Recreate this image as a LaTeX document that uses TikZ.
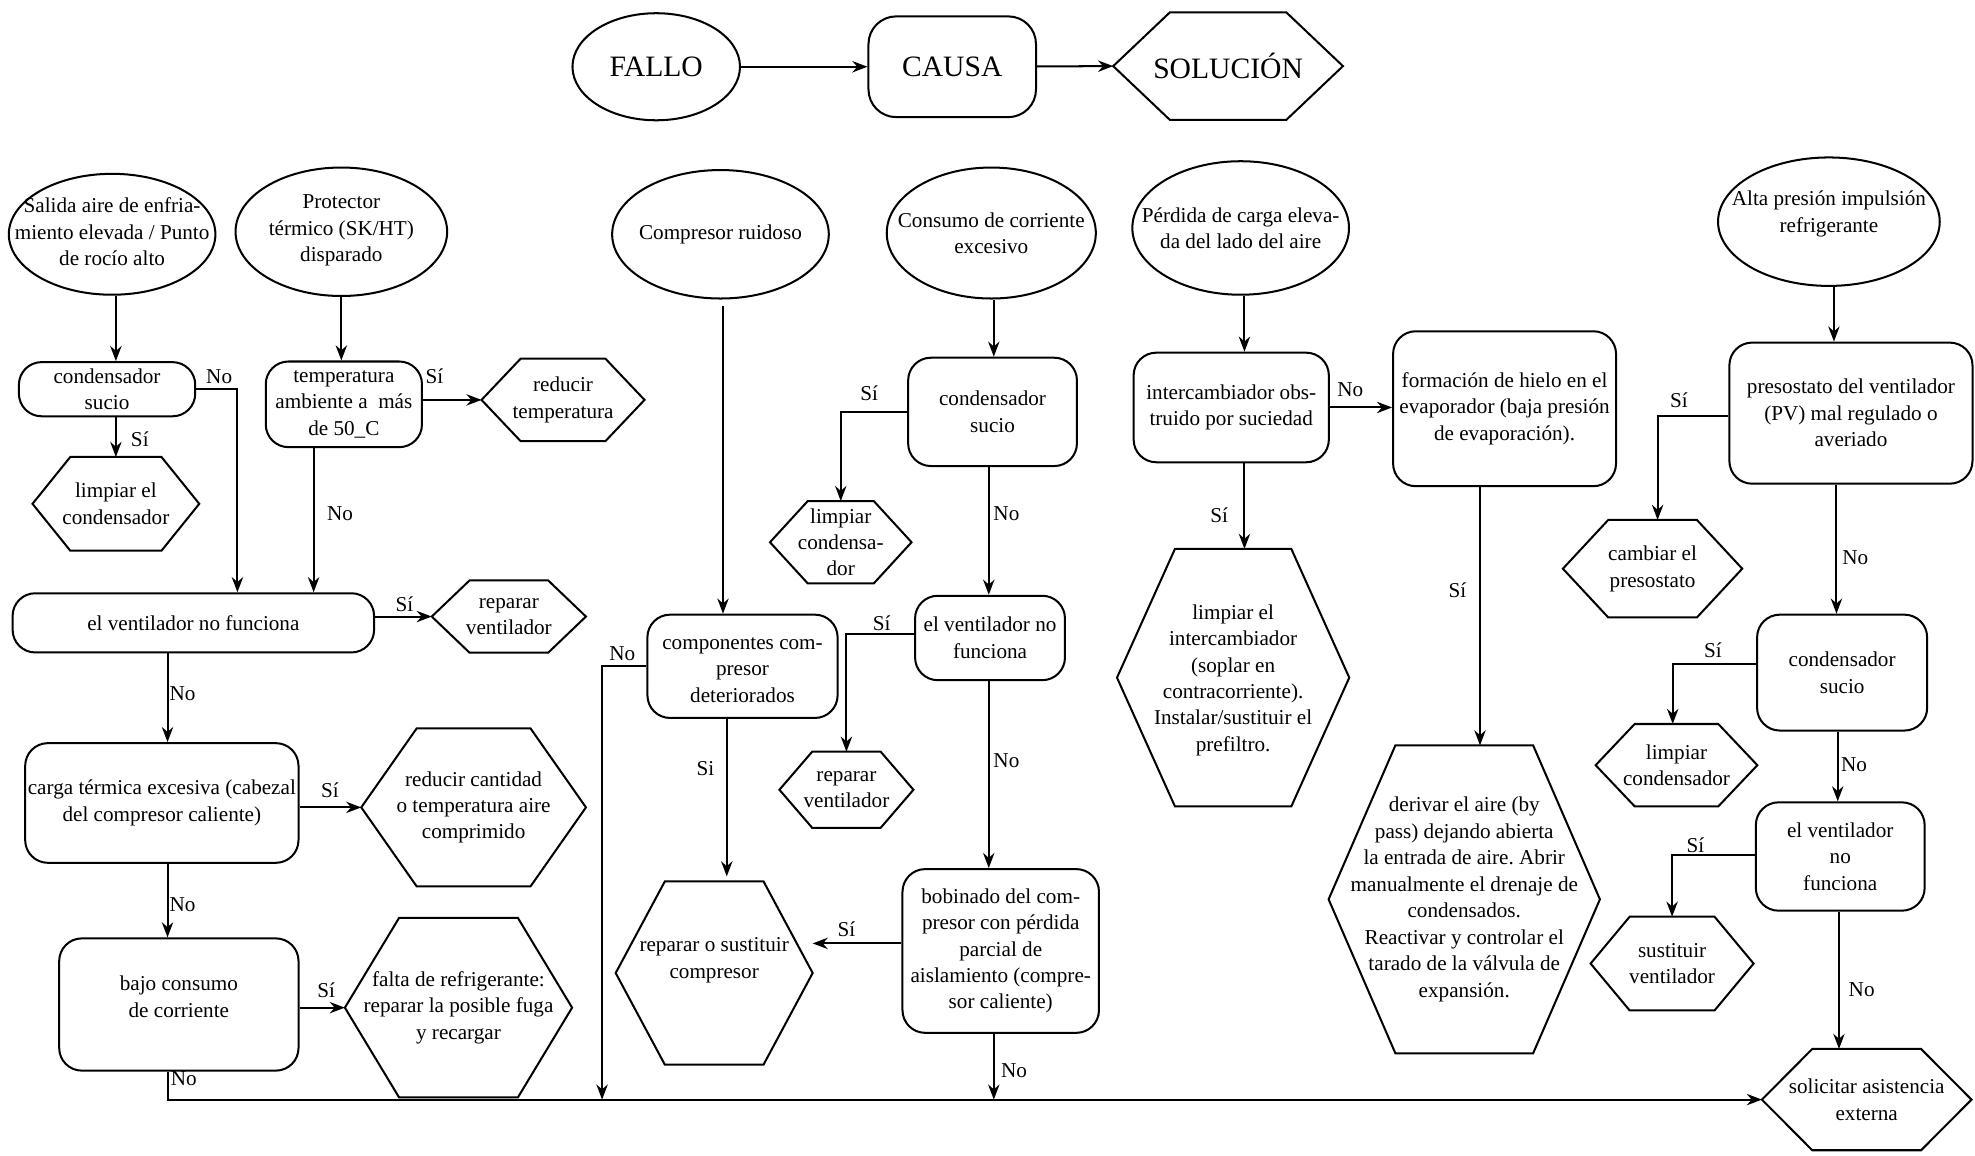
\documentclass[tikz,border=0pt]{standalone}
\usepackage{fontspec}
\setmainfont{Liberation Serif}
\usetikzlibrary{shapes.geometric,arrows.meta,calc}
\tikzset{
  shp/.style={draw, line width=1.6pt},
  rbox/.style={shp, rectangle, rounded corners=18pt, inner sep=0pt},
  ell/.style={shp, ellipse, inner sep=0pt},
  txt/.style={align=center, inner sep=0pt, font=\fontsize{16.8}{21}\selectfont},
  big/.style={align=center, inner sep=0pt, font=\fontsize{23.5}{28}\selectfont},
  lbl/.style={inner sep=0pt, font=\fontsize{16.8}{21}\selectfont},
  arr/.style={line width=1.6pt, -{Stealth[length=12pt,width=9pt]}},
}
% rounded box: name, cx, cy, w, h, text dy, text
\newcommand\rbx[7]{%
  \node[rbox, minimum width=#4pt, minimum height=#5pt] (#1) at (#2,#3) {};
  \node[txt] (#1t) at ($(#1)+(0,#6)$) {#7};}
% ellipse: name, cx, cy, w, h, text dy, text
\newcommand\elp[7]{%
  \node[ell, minimum width=#4pt, minimum height=#5pt] (#1) at (#2,#3) {};
  \node[txt] (#1t) at ($(#1)+(0,#6)$) {#7};}
% hexagon: name, cx, cy, w, h, inset, text dy, text
\newcommand\hexg[8]{%
  \node[inner sep=0pt, minimum width=#4pt, minimum height=#5pt] (#1) at (#2,#3) {};
  \draw[shp, line join=miter] (#1.west) -- ([xshift=#6pt]#1.north west) -- ([xshift=-#6pt]#1.north east) -- (#1.east) -- ([xshift=-#6pt]#1.south east) -- ([xshift=#6pt]#1.south west) -- cycle;
  \node[txt] (#1t) at ($(#1)+(0,#7)$) {#8};}
\begin{document}
\frenchspacing
\begin{tikzpicture}[x=1pt,y=-1pt]
\useasboundingbox (0,0) rectangle (1568,917);
\fill[white] (0,0) rectangle (1568,917);

% ---------- legend ----------
\node[ell, minimum width=133pt, minimum height=85pt] (fallo) at (521,53) {};
\node[big] (fallot) at (fallo) {FALLO};
\node[rbox, rounded corners=22pt, minimum width=133pt, minimum height=80pt] (causa) at (756,53) {};
\node[big] (causat) at (causa) {CAUSA};
\node[inner sep=0pt, minimum width=182pt, minimum height=85pt] (sol) at (975,52.5) {};
\draw[shp, line join=miter] (sol.west) -- ([xshift=45pt]sol.north west) -- ([xshift=-45pt]sol.north east) -- (sol.east) -- ([xshift=-45pt]sol.south east) -- ([xshift=45pt]sol.south west) -- cycle;
\node[big] (solt) at (sol) {SOLUCIÓN};
\draw[arr] (fallo) -- (causa);
\draw[arr] (causa) -- (sol.west);

% ---------- column 1 & 2 ----------
\elp{e1}{89}{186}{164}{96}{-2}{Salida aire de enfria-\\miento elevada / Punto\\de rocío alto}
\elp{e2}{271}{184}{168}{102}{-1}{Protector\\térmico (SK/HT)\\disparado}
\rbx{r1}{85}{309}{140}{43}{0}{condensador\\sucio}
\rbx{r2}{273}{321}{124}{68}{0}{temperatura\\ambiente a\ \ más\\de 50\_C}
\hexg{h1}{92}{400}{132}{74}{30}{0}{limpiar el\\condensador}
\hexg{h2}{447}{317.5}{129}{65}{31}{0}{reducir\\temperatura}
\rbx{r3}{153.5}{494.5}{287}{47}{0}{el ventilador no funciona}
\hexg{h3}{404}{489.5}{122}{57}{30}{0}{reparar\\ventilador}
\rbx{r4}{128.5}{637.5}{217}{95}{0}{carga térmica excesiva (cabezal\\del compresor caliente)}
\hexg{h4}{376}{641}{178}{125}{44}{0}{reducir cantidad\\o temperatura aire\\comprimido}
\rbx{r5}{142}{797.5}{190}{105}{-6}{bajo consumo\\de corriente}
\hexg{h5}{364}{800}{180}{142}{43}{0}{falta de refrigerante:\\reparar la posible fuga\\y recargar}

% ---------- column 3 & 4 ----------
\elp{e3}{572}{186}{172}{102}{0}{Compresor ruidoso}
\rbx{r6}{589.5}{529}{151}{82}{3}{componentes com-\\presor\\deteriorados}
\hexg{h6}{567}{772.5}{156}{145}{39}{-10}{reparar o sustituir\\compresor}
\elp{e4}{787}{185}{166}{104}{0}{Consumo de corriente\\excesivo}
\rbx{r7}{788}{327}{134}{86}{0}{condensador\\sucio}
\hexg{h7}{667.5}{430.5}{112}{65}{30}{0}{limpiar\\condensa-\\dor}
\rbx{r8}{786}{506.5}{119}{67}{0}{el ventilador no\\funciona}
\hexg{h8}{672}{627}{106}{60}{26}{0}{reparar\\ventilador}
\rbx{r9}{794.5}{755}{156}{130}{0}{bobinado del com-\\presor con pérdida\\parcial de\\aislamiento (compre-\\sor caliente)}

% ---------- column 5 & 6 ----------
\elp{e5}{985}{181}{172}{106}{0}{Pérdida de carga eleva-\\da del lado del aire}
\rbx{r10}{977.5}{323.5}{155}{87}{0}{intercambiador obs-\\truido por suciedad}
\rbx{r11}{1194.5}{324.5}{177}{123}{0}{formación de hielo en el\\evaporador (baja presión\\de evaporación).}
\hexg{h9}{979}{538}{184}{204}{46}{2}{limpiar el\\intercambiador\\(soplar en\\contracorriente).\\Instalar/sustituir el\\prefiltro.}
\hexg{h10}{1162.5}{714}{215}{244}{53}{0}{derivar el aire (by\\pass) dejando abierta\\la entrada de aire. Abrir\\manualmente el drenaje de\\condensados.\\Reactivar y controlar el\\tarado de la válvula de\\expansión.}

% ---------- column 7 ----------
\elp{e6}{1452}{176}{176}{102}{-6}{Alta presión impulsión\\refrigerante}
\rbx{r12}{1469.5}{328}{193}{112}{0}{presostato del ventilador\\(PV) mal regulado o\\averiado}
\hexg{h11}{1312}{451.5}{142}{77}{36}{0}{cambiar el\\presostato}
\rbx{r13}{1462.5}{534}{135}{92}{0}{condensador\\sucio}
\hexg{h12}{1331}{607.5}{128}{65}{31}{0}{limpiar\\condensador}
\rbx{r14}{1461}{680}{134}{86}{0}{el ventilador\\no\\funciona}
\hexg{h13}{1327.5}{765}{129}{74}{31}{0}{sustituir\\ventilador}
\hexg{h14}{1482}{873}{166}{80}{40}{0}{solicitar asistencia\\externa}

\coordinate (j1) at (478,873);
\coordinate (j2) at (789,873);

% ---------- connectors ----------
\draw[arr] ($(e1.south)+(3,0)$) coordinate (a1) -- (a1 |- r1.north);
\draw[arr] (h1.north |- r1.south) -- (h1.north);
\draw[arr] (r1.east) -| ($(r3.north)+(35,0)$);
\draw[arr] (e2.south) -- (e2.south |- r2.north);
\draw[arr] (r2.east |- h2.west) -- (h2.west);
\draw[arr] ($(r2.south)+(-24,0)$) coordinate (a2) -- (a2 |- r3.north);
\draw[arr] (r3.east |- h3.west) -- (h3.west);
\draw[arr] ($(r3.south)+(-20.5,0)$) coordinate (a3) -- (a3 |- r4.north);
\draw[arr] (r4.east |- h4.west) -- (h4.west);
\draw[arr] (a3 |- r4.south) -- (a3 |- r5.north);
\draw[arr] (r5.east |- h5.west) -- (h5.west);
\draw[arr] (a3 |- r5.south) |- (h14.west);

\draw[arr] ($(e3.south)+(2,5)$) coordinate (a4) -- (a4 |- r6.north);
\draw[arr] ($(r6.south)+(-12.5,0)$) coordinate (a5) -- ($(a5 |- h6.north)+(0,-4)$);
\draw[arr] (r6.west) -| (j1);
\draw[arr] ($(e4.south)+(2,0)$) coordinate (a6) -- (a6 |- r7.north);
\draw[arr] (r7.west) -| (h7.north);
\draw[arr] ($(r7.south)+(-3,0)$) coordinate (a7) -- (a7 |- r8.north);
\draw[arr] ($(r8.west)+(0,-3)$) -| (h8.north);
\draw[arr] (a7 |- r8.south) -- (a7 |- r9.north);
\draw[arr] ($(r9.west)+(0,-6)$) coordinate (a8) -- (a8 -| h6.east);
\draw[arr] (r9.south -| j2) -- (j2);

\draw[arr] ($(e5.south)+(3,0)$) coordinate (a9) -- (a9 |- r10.north);
\draw[arr] (r10.east) -- (r10.east -| r11.west);
\draw[arr] (a9 |- r10.south) -- (a9 |- h9.north);
\draw[arr] ($(r11.south)+(-19.5,0)$) coordinate (a10) -- (a10 |- h10.north);

\draw[arr] ($(e6.south)+(4,0)$) coordinate (a11) -- (a11 |- r12.north);
\draw[arr] ($(r12.west)+(0,2)$) -| ($(h11.north)+(4,0)$);
\draw[arr] ($(r12.south)+(-11.5,0)$) coordinate (a12) -- (a12 |- r13.north);
\draw[arr] ($(r13.west)+(0,-7)$) -| ($(h12.north)+(-3,0)$);
\draw[arr] ($(r13.south)+(-3.5,0)$) coordinate (a13) -- (a13 |- r14.north);
\draw[arr] ($(r14.west)+(0,-1)$) -| (h13.north);
\draw[arr] ($(r14.south)+(-1,0)$) coordinate (a14) -- (a14 |- h14.north);

% ---------- labels ----------
\node[lbl] (l1) at (174,299) {No};
\node[lbl] (l2) at (111,349) {Sí};
\node[lbl] (l3) at (345,299) {Sí};
\node[lbl] (l4) at (270,408) {No};
\node[lbl] (l5) at (321,480) {Sí};
\node[lbl] (l6) at (145,551) {No};
\node[lbl] (l7) at (262,627) {Sí};
\node[lbl] (l8) at (145,718) {No};
\node[lbl] (l9) at (259,786) {Sí};
\node[lbl] (l10) at (146,856) {No};
\node[lbl] (l11) at (494,519) {No};
\node[lbl] (l12) at (560,610) {Si};
\node[lbl] (l13) at (690,312) {Sí};
\node[lbl] (l14) at (799,408) {No};
\node[lbl] (l15) at (700,495) {Sí};
\node[lbl] (l16) at (799,604) {No};
\node[lbl] (l17) at (672,738) {Sí};
\node[lbl] (l18) at (805,850) {No};
\node[lbl] (l19) at (1072,309) {No};
\node[lbl] (l20) at (968,409) {Sí};
\node[lbl] (l21) at (1157,469) {Sí};
\node[lbl] (l22) at (1333,318) {Sí};
\node[lbl] (l23) at (1473,443) {No};
\node[lbl] (l24) at (1360,516) {Sí};
\node[lbl] (l25) at (1472,607) {No};
\node[lbl] (l26) at (1346,671) {Sí};
\node[lbl] (l27) at (1478,786) {No};
\end{tikzpicture}
\end{document}
